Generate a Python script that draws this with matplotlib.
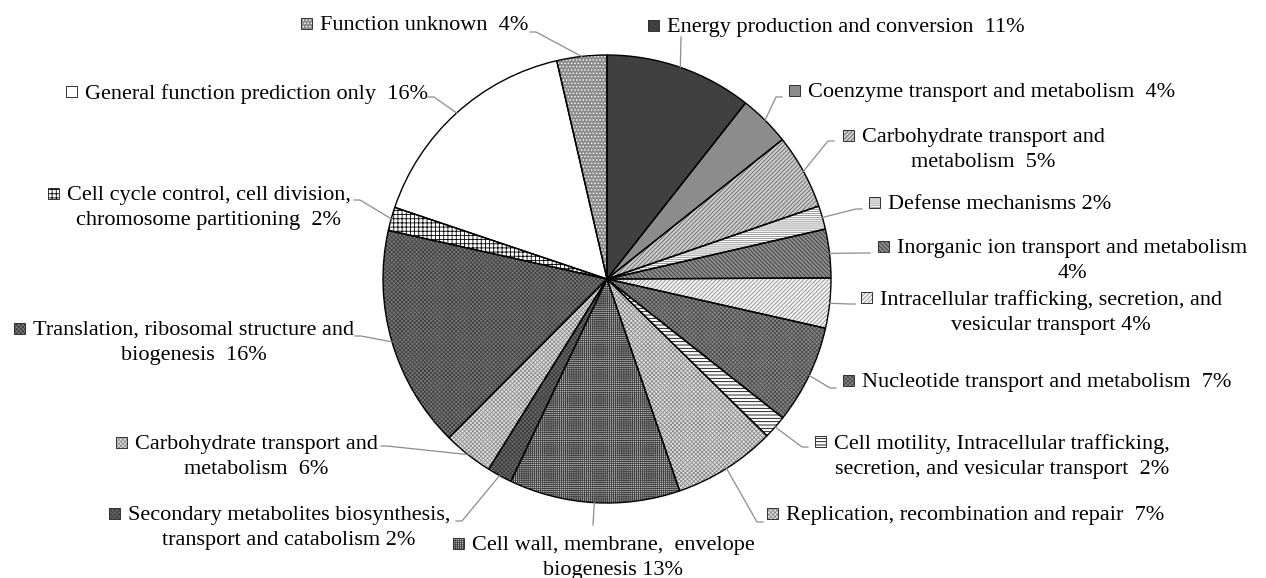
import numpy as np
import matplotlib
matplotlib.use("Agg")
from matplotlib import pyplot as plt
from matplotlib.patches import Rectangle

W, H = 1266, 578

# slice shares (clockwise from 12 o'clock)
categories = [
    "Energy production and conversion", "Coenzyme transport and metabolism",
    "Carbohydrate transport and metabolism", "Defense mechanisms",
    "Inorganic ion transport and metabolism",
    "Intracellular trafficking, secretion, and vesicular transport",
    "Nucleotide transport and metabolism",
    "Cell motility, Intracellular trafficking, secretion, and vesicular transport",
    "Replication, recombination and repair",
    "Cell wall, membrane, envelope biogenesis",
    "Secondary metabolites biosynthesis, transport and catabolism",
    "Carbohydrate transport and metabolism (2)",
    "Translation, ribosomal structure and biogenesis",
    "Cell cycle control, cell division, chromosome partitioning",
    "General function prediction only", "Function unknown",
]
values = [10.6, 3.7, 5.4, 1.7, 3.5, 3.6, 7.1, 1.7, 7.4, 12.3, 1.8, 3.6, 16.0, 1.7, 16.2, 3.6]

labels = [
    "Energy production and conversion  11%",
    "Coenzyme transport and metabolism  4%",
    "Carbohydrate transport and\nmetabolism  5%",
    "Defense mechanisms 2%",
    "Inorganic ion transport and metabolism\n4%",
    "Intracellular trafficking, secretion, and\nvesicular transport 4%",
    "Nucleotide transport and metabolism  7%",
    "Cell motility, Intracellular trafficking,\nsecretion, and vesicular transport  2%",
    "Replication, recombination and repair  7%",
    "Cell wall, membrane,  envelope\nbiogenesis 13%",
    "Secondary metabolites biosynthesis,\ntransport and catabolism 2%",
    "Carbohydrate transport and\nmetabolism  6%",
    "Translation, ribosomal structure and\nbiogenesis  16%",
    "Cell cycle control, cell division,\nchromosome partitioning  2%",
    "General function prediction only  16%",
    "Function unknown  4%",
]

# fill, hatch pattern, hatch colour for each slice (grey-scale patterns)
faces = ["#404040", "#8c8c8c", "#cccccc", "white", "#8c8c8c", "#f4f4f4", "#8a8a8a", "white",
         "#e2e2e2", "#c4c4c4", "#6a6a6a", "#e0e0e0", "#7a7a7a", "white", "white", "#8c8c8c"]
hatches = ["", "", "////////", "--------", "\\\\\\\\\\\\\\\\", "////////", "xxxxxxxx", "-----",
           "xxxxxxxx", "++++++++", "xxxxxxxx", "xxxxxxxx", "xxxxxxxx", "++++", "", "....."]
hatch_cols = ["#404040", "#8c8c8c", "#666666", "#8a8a8a", "#3a3a3a", "#8a8a8a", "#4a4a4a", "black",
              "#8a8a8a", "#404040", "#3a3a3a", "#8e8e8e", "#404040", "black", "white", "white"]

# label layout in image pixels: text left x, first-line centre y, leader end, side of text
label_x = [667, 808, 862, 888, 897, 880, 862, 834, 786, 472, 128, 135, 33, 67, 85, 320]
label_y = [25, 90, 135, 202, 246, 297, 380, 441, 513, 543, 513, 442, 328, 193, 91, 23]
lead_end = [(681, 37), (782, 97), (834, 141), (862, 209), (870, 253), (855, 304),
            (836, 388), (808, 447), (763, 522), (593, 525), (456, 521), (381, 446),
            (355, 336), (354, 200), (428, 97), (530, 32)]
side = [0, 1, 1, 1, 1, 1, 1, 1, 1, 0, -1, -1, -1, -1, -1, -1]

plt.rcParams['font.family'] = ['Liberation Serif', 'DejaVu Serif']
plt.rcParams['hatch.linewidth'] = 0.6

fig = plt.figure(figsize=(W / 100, H / 100), dpi=100)
ax = fig.add_axes([0, 0, 1, 1])

cx, cy, r = 607, H - 279, 224
# pass 1: fills + hatches (hatch colour follows edge colour)
wedges, _ = ax.pie(values, colors=faces, startangle=90, counterclock=False,
                   center=(cx, cy), radius=r, frame=True,
                   wedgeprops=dict(linewidth=0))
for w, h, hc in zip(wedges, hatches, hatch_cols):
    w.set_hatch(h)
    w.set_edgecolor(hc)
    w.set_linewidth(0)
# pass 2: black outlines
ax.pie(values, startangle=90, counterclock=False, center=(cx, cy), radius=r, frame=True,
       wedgeprops=dict(fill=False, edgecolor='black', linewidth=1.0))

ax.set_xlim(0, W)
ax.set_ylim(0, H)
ax.set_aspect('equal')
ax.axis('off')

for i, w in enumerate(wedges):
    mid = np.deg2rad((w.theta1 + w.theta2) / 2)
    px, py = cx + r * np.cos(mid), cy + r * np.sin(mid)
    ex, ey = lead_end[i]
    ey = H - ey
    if side[i] == 0:
        xs, ys = [px, ex], [py, ey]
    else:
        xs, ys = [px, ex - side[i] * 6, ex], [py, ey, ey]
    ax.plot(xs, ys, color='#8c8c8c', lw=0.9, zorder=1)

    tx, ty = label_x[i], H - label_y[i]
    ax.text(tx, ty + 7, labels[i], ha='left', va='top', multialignment='center',
            fontsize=16, linespacing=1.42, color='black')
    ax.add_patch(Rectangle((tx - 19, ty - 5.5), 11, 11, facecolor=faces[i],
                           hatch=hatches[i], edgecolor=hatch_cols[i], lw=0))
    ax.add_patch(Rectangle((tx - 19, ty - 5.5), 11, 11, fill=False,
                           edgecolor='#303030', lw=0.7))

plt.savefig('out.png', dpi=100)
